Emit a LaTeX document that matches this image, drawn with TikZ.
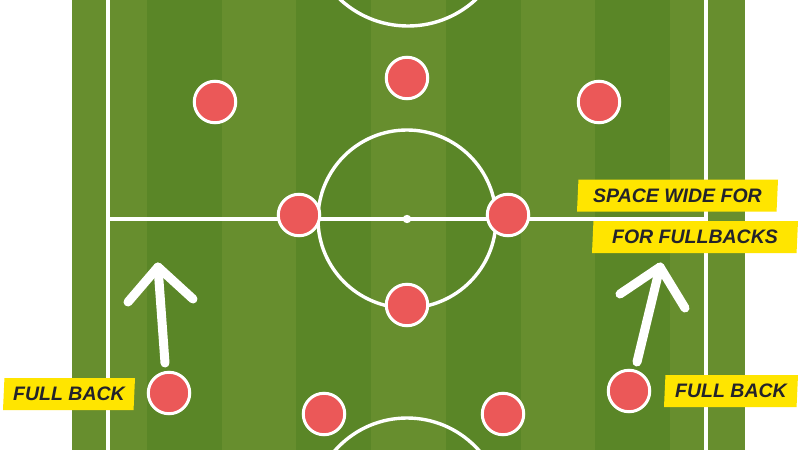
\documentclass[tikz,border=0pt]{standalone}
\usepackage{fontspec}
\setmainfont{Liberation Sans}
\usetikzlibrary{shapes.geometric}
\definecolor{grassA}{RGB}{103,142,46}
\definecolor{grassB}{RGB}{90,134,39}
\definecolor{playerred}{RGB}{235,88,88}
\definecolor{tagyellow}{RGB}{255,229,0}
\definecolor{ink}{RGB}{35,35,43}
\begin{document}
\begin{tikzpicture}[x=1pt,y=-1pt,
  pitchline/.style={draw=white,line width=3.4pt},
  playerdot/.style={circle,fill=playerred,draw=white,line width=3pt,minimum size=41.5pt,inner sep=0pt},
  runline/.style={draw=white,line width=9pt,line cap=round,line join=round},
  tagbox/.style={trapezium,trapezium left angle=84,trapezium right angle=96,trapezium stretches body,
    fill=tagyellow,text=ink,minimum height=32pt,inner sep=0pt,
    font=\fontsize{19.5}{20}\selectfont\bfseries\itshape}]
\useasboundingbox (0,0) rectangle (800,450);
\fill[white] (0,0) rectangle (800,450);
\begin{scope}
\clip (0,0) rectangle (800,450);
% grass stripes
\foreach \i in {0,2,4,6,8}
  \fill[grassA] ({72+\i*74.78},0) rectangle ({72+(\i+1)*74.78},450);
\foreach \i in {1,3,5,7}
  \fill[grassB] ({72+\i*74.78},0) rectangle ({72+(\i+1)*74.78},450);
% pitch markings
\draw[pitchline] (108,-5) -- (108,455);
\draw[pitchline] (706,-5) -- (706,455);
\draw[pitchline] (108,219) -- (706,219);
\draw[pitchline] (407,219) circle[radius=89];
\fill[white] (407,219) circle[radius=4.2];
\draw[pitchline] (408,-74) circle[radius=100];
\draw[pitchline] (407,514) circle[radius=96];
\end{scope}
% runs of the full backs
\coordinate (lt) at (158,267);
\coordinate (lb) at (165,363);
\coordinate (la1) at (128,302);
\coordinate (la2) at (193,299);
\coordinate (rt) at (660,267);
\coordinate (rb) at (637,362);
\coordinate (ra1) at (620,294);
\coordinate (ra2) at (685,308);
\draw[runline] (lb) -- (lt);
\draw[runline] (la1) -- (lt) -- (la2);
\draw[runline] (rb) -- (rt);
\draw[runline] (ra1) -- (rt) -- (ra2);
% players
\node[playerdot] (p1) at (215,102) {};
\node[playerdot] (p2) at (407,78) {};
\node[playerdot] (p3) at (599,102) {};
\node[playerdot] (p4) at (299,215) {};
\node[playerdot] (p5) at (508,215) {};
\node[playerdot] (p6) at (407,305) {};
\node[playerdot] (p7) at (169,393) {};
\node[playerdot] (p8) at (629,391) {};
\node[playerdot] (p9) at (324,414) {};
\node[playerdot] (p10) at (503,414) {};
% labels
\node[tagbox,minimum width=132pt] (fbl) at (69,394) {FULL BACK};
\node[tagbox,minimum width=134pt] (fbr) at (731,391) {FULL BACK};
\node[tagbox,minimum width=201pt] (sw1) at (677.5,195.5) {SPACE WIDE FOR};
\node[tagbox,minimum width=206pt] (sw2) at (695,237) {FOR FULLBACKS};
\end{tikzpicture}
\end{document}
